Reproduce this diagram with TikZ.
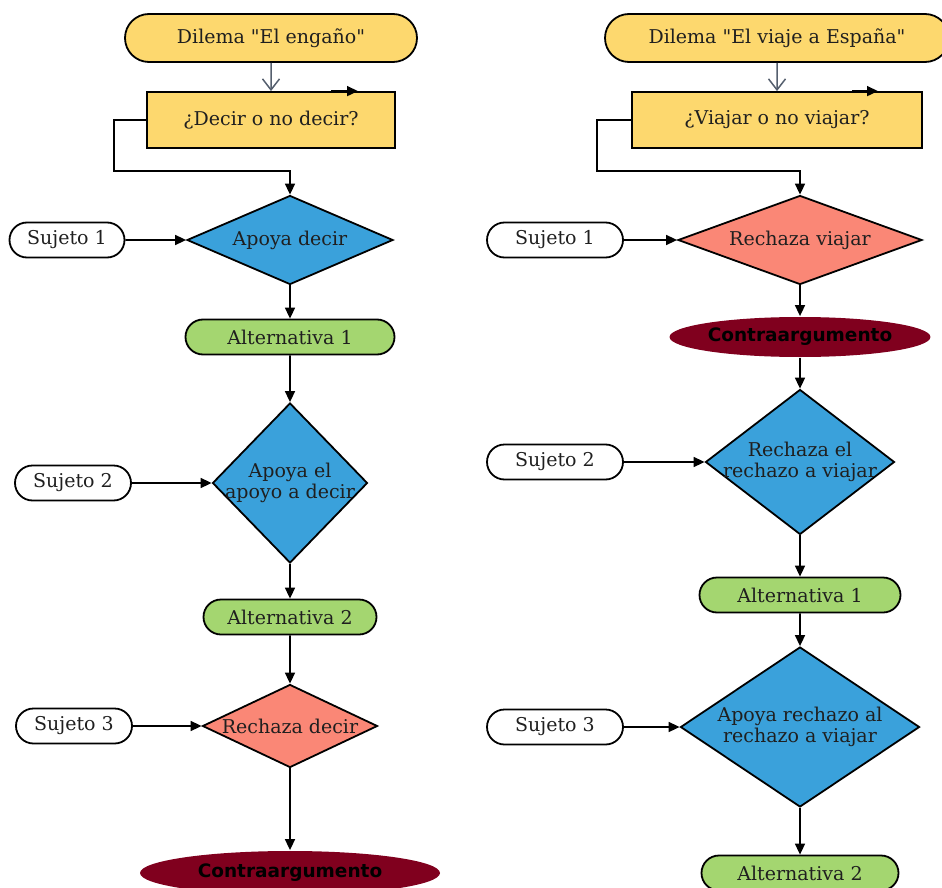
\documentclass[tikz,border=0pt]{standalone}
\usepackage{fontspec}
\setmainfont{DejaVu Serif}[Ligatures=TeXOff]
\newfontfamily\contrafont{DejaVu Sans}
\usepackage{xcolor}
\usetikzlibrary{shapes.geometric,shapes.misc,arrows.meta}
\definecolor{dilyellow}{RGB}{253,216,110}
\definecolor{decblue}{RGB}{58,161,219}
\definecolor{rejsalmon}{RGB}{250,135,118}
\definecolor{altgreen}{RGB}{164,214,112}
\definecolor{contrared}{RGB}{128,0,30}
\definecolor{inkgray}{RGB}{85,95,110}

\begin{document}
\begin{tikzpicture}[x=1pt,y=-1pt,
  font=\fontsize{19}{21}\selectfont,
  box/.style={draw=black,line width=1.8pt,inner sep=0pt,text=black!88},
  dil/.style={box,rounded rectangle,fill=dilyellow,minimum height=48pt},
  question/.style={box,rectangle,fill=dilyellow,minimum height=56pt},
  subject/.style={box,rounded rectangle,fill=white,minimum height=35pt},
  alt/.style={box,rounded rectangle,fill=altgreen,minimum height=35pt},
  contra/.style={box,draw=none,ellipse,fill=contrared,text=black,
    font=\contrafont\bfseries\fontsize{18.5}{21}\selectfont},
  decision/.style={box,diamond,fill=decblue},
  reject/.style={box,diamond,fill=rejsalmon},
  inside/.style={draw=none,fill=none,align=center,text=black!88},
  flow/.style={line width=1.6pt,-{Triangle[length=11pt,width=10pt]}},
  start/.style={line width=1.5pt,draw=inkgray,-{Straight Barb[length=11pt,width=17pt]}}]
\useasboundingbox (0,0) rectangle (942,888);

% El engano
\node[dil,minimum width=292pt] (dilA) at (271,38) {Dilema "El engaño"};
\node[question,minimum width=248pt] (decA) at (271,120) {¿Decir o no decir?};
\node[decision,minimum width=206pt,minimum height=89pt,
  label={[inside]center:Apoya decir}] (dA1) at (290,240) {};
\node[subject,minimum width=115pt] (sA1) at (67,240) {Sujeto 1};
\node[alt,minimum width=209pt] (altA1) at (290,337) {Alternativa 1};
\node[decision,minimum width=155pt,minimum height=160pt,
  label={[inside]center:Apoya el\\apoyo a decir}] (dA2) at (290,483) {};
\node[subject,minimum width=116pt] (sA2) at (73,483) {Sujeto 2};
\node[alt,minimum width=173pt] (altA2) at (290,617) {Alternativa 2};
\node[reject,minimum width=175pt,minimum height=83pt,
  label={[inside]center:Rechaza decir}] (dA3) at (290,726) {};
\node[subject,minimum width=116pt] (sA3) at (74,726) {Sujeto 3};
\node[contra,minimum width=300pt,minimum height=44pt] (conA) at (290,873) {Contraargumento};

\draw[start] (dilA) -- (decA);
\draw[flow] ([xshift=60pt]decA.north) -- ([xshift=87pt]decA.north);
\draw[flow] (decA.west) -- ++(-32,0) -- ++(0,51) -| (dA1.north);
\draw[flow] (sA1) -- (dA1);
\draw[flow] (dA1) -- (altA1);
\draw[flow] (altA1) -- (dA2);
\draw[flow] (sA2) -- (dA2);
\draw[flow] (dA2) -- (altA2);
\draw[flow] (altA2) -- (dA3);
\draw[flow] (sA3) -- (dA3);
\draw[flow] (dA3) -- (conA);

% El viaje a Espana
\node[dil,minimum width=344pt] (dilB) at (777,38) {Dilema "El viaje a España"};
\node[question,minimum width=290pt] (decB) at (777,120) {¿Viajar o no viajar?};
\node[reject,minimum width=244pt,minimum height=89pt,
  label={[inside]center:Rechaza viajar}] (dB1) at (800,240) {};
\node[subject,minimum width=136pt] (sB1) at (555,240) {Sujeto 1};
\node[contra,minimum width=252pt,minimum height=40pt] (conB) at (800,337) {Contraargumento};
\node[decision,minimum width=189pt,minimum height=145pt,
  label={[inside]center:Rechaza el\\rechazo a viajar}] (dB2) at (800,462) {};
\node[subject,minimum width=136pt] (sB2) at (555,462) {Sujeto 2};
\node[alt,minimum width=201pt] (altB1) at (800,595) {Alternativa 1};
\node[decision,minimum width=239pt,minimum height=160pt,
  label={[inside]center:Apoya rechazo al\\rechazo a viajar}] (dB3) at (800,727) {};
\node[subject,minimum width=136pt] (sB3) at (555,727) {Sujeto 3};
\node[alt,minimum width=197pt] (altB2) at (800,873) {Alternativa 2};

\draw[start] (dilB) -- (decB);
\draw[flow] ([xshift=75pt]decB.north) -- ([xshift=101pt]decB.north);
\draw[flow] (decB.west) -- ++(-34,0) -- ++(0,51) -| (dB1.north);
\draw[flow] (sB1) -- (dB1);
\draw[flow] (dB1) -- (conB);
\draw[flow] (conB) -- (dB2);
\draw[flow] (sB2) -- (dB2);
\draw[flow] (dB2) -- (altB1);
\draw[flow] (altB1) -- (dB3);
\draw[flow] (sB3) -- (dB3);
\draw[flow] (dB3) -- (altB2);
\end{tikzpicture}
\end{document}
